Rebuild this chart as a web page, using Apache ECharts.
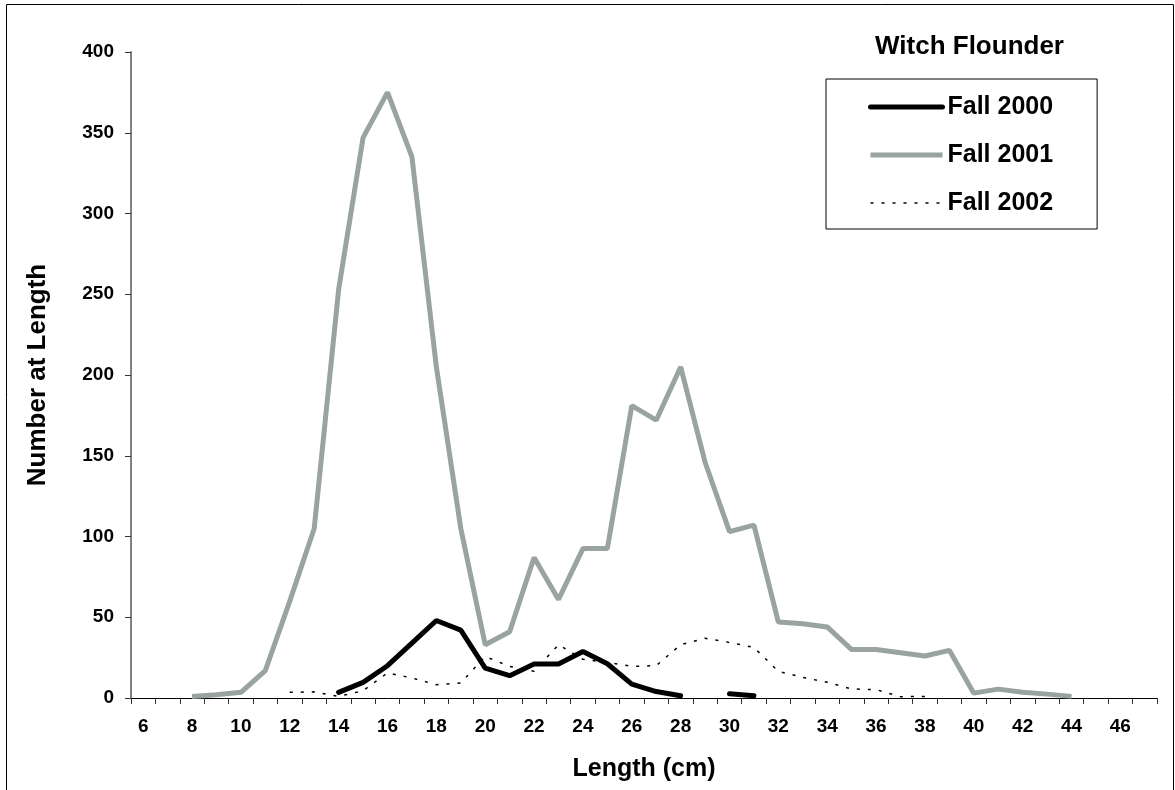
<!DOCTYPE html>
<html>
<head>
<meta charset="utf-8">
<script src="https://cdn.jsdelivr.net/npm/echarts@6/dist/echarts.min.js"></script>
<style>html,body{margin:0;padding:0;background:#fff}#c{width:1175px;height:790px}</style>
</head>
<body>
<div id="c"></div>
<script>
var lengths = [];
for (var L = 6; L <= 47; L++) lengths.push(String(L));
var fall2000 = {14:3.5,15:9.7,16:20,17:34,18:48,19:42,20:18.5,21:13.8,22:21,23:21,24:28.8,25:21.2,26:8.6,27:4,28:1.4,30:2.6,31:1.4};
var fall2001 = {8:1,9:2,10:3.5,11:17,12:60,13:105,14:253,15:347,16:375,17:335,18:205,19:105,20:33,21:41,22:87,23:61,24:92.5,25:92.5,26:181,27:172,28:205,29:146,30:103,31:107,32:47,33:46,34:44,35:30,36:30,37:28,38:26,39:29.5,40:3,41:5.5,42:3.5,43:2.4,44:1};
var fall2002 = {12:3.5,13:3.8,14:1,15:4.5,16:15.5,17:12.4,18:8.2,19:9.3,20:25.7,21:19.6,22:16.5,23:33,24:24,25:22,26:19.6,27:20,28:33,29:37,30:34.4,31:31.3,32:16.5,33:12.8,34:9.7,35:5.6,36:5.2,37:0.8,38:1};
var yTicks = [0,50,100,150,200,250,300,350,400];

function toSeries(obj){ return lengths.map(function(c){ var v = obj[c]; return v === undefined ? null : v; }); }

var font = 'Liberation Sans';
var chart = echarts.init(document.getElementById('c'));
chart.setOption({
  animation: false,
  backgroundColor: '#fff',
  title: {
    text: 'Witch Flounder', left: 870, top: 29,
    textStyle: {fontFamily: font, fontWeight: 'bold', fontSize: 26, color: '#000'}
  },
  legend: {
    left: 826, top: 79,
    orient: 'vertical',
    padding: [15, 44, 13, 42],
    itemGap: 22,
    itemWidth: 72, itemHeight: 26,
    borderColor: '#000', borderWidth: 1, borderRadius: 0,
    itemStyle: {opacity: 0},
    textStyle: {fontFamily: font, fontWeight: 'bold', fontSize: 25, lineHeight: 26, color: '#000', padding: [0,0,0,0]},
    data: [
      {name: 'Fall 2000', lineStyle: {width: 5, cap: 'round'}},
      {name: 'Fall 2001', lineStyle: {width: 5}},
      {name: 'Fall 2002', lineStyle: {width: 1.5}}
    ]
  },
  grid: {left: 131, right: 18, top: 52, bottom: 92},
  xAxis: {
    type: 'category', data: lengths, boundaryGap: true,
    name: 'Length (cm)', nameLocation: 'middle', nameGap: 59,
    nameTextStyle: {fontFamily: font, fontWeight: 'bold', fontSize: 25, color: '#000'},
    axisLine: {lineStyle: {color: '#000', width: 1}},
    axisTick: {show: true, interval: 0, length: 6, inside: false, lineStyle: {color: '#333'}},
    axisLabel: {interval: 1, margin: 19, fontFamily: font, fontWeight: 'bold', fontSize: 19, color: '#000'},
    splitLine: {show: false}
  },
  yAxis: {
    type: 'value', min: 0, max: 400, interval: 50,
    name: 'Number at Length', nameLocation: 'middle', nameGap: 80, nameRotate: 90,
    nameTextStyle: {fontFamily: font, fontWeight: 'bold', fontSize: 26, color: '#000'},
    axisLine: {show: true, lineStyle: {color: '#808080', width: 2}},
    axisTick: {show: true, length: 6, lineStyle: {color: '#333'}},
    axisLabel: {margin: 17, fontFamily: font, fontWeight: 'bold', fontSize: 19, color: '#000',
      formatter: function(v){ return yTicks.indexOf(v) >= 0 ? String(v) : ''; }},
    splitLine: {show: false}
  },
  series: [
    {name: 'Fall 2000', type: 'line', data: toSeries(fall2000), showSymbol: false, symbol: 'none', connectNulls: false, z: 4,
     itemStyle: {color: '#000'}, lineStyle: {color: '#000', width: 5, cap: 'round'}},
    {name: 'Fall 2001', type: 'line', data: toSeries(fall2001), showSymbol: false, symbol: 'none', z: 3,
     itemStyle: {color: '#98a3a2'}, lineStyle: {color: '#98a3a2', width: 5}},
    {name: 'Fall 2002', type: 'line', data: toSeries(fall2002), showSymbol: false, symbol: 'none', z: 5,
     itemStyle: {color: '#000'}, lineStyle: {color: '#000', width: 1.5, type: [3, 8]}}
  ],
  graphic: [
    {type: 'rect', left: 4, top: 2, shape: {x: 0, y: 0, width: 1167, height: 800}, silent: true,
     style: {fill: 'none', stroke: '#000', lineWidth: 1}}
  ]
});
</script>
</body>
</html>
